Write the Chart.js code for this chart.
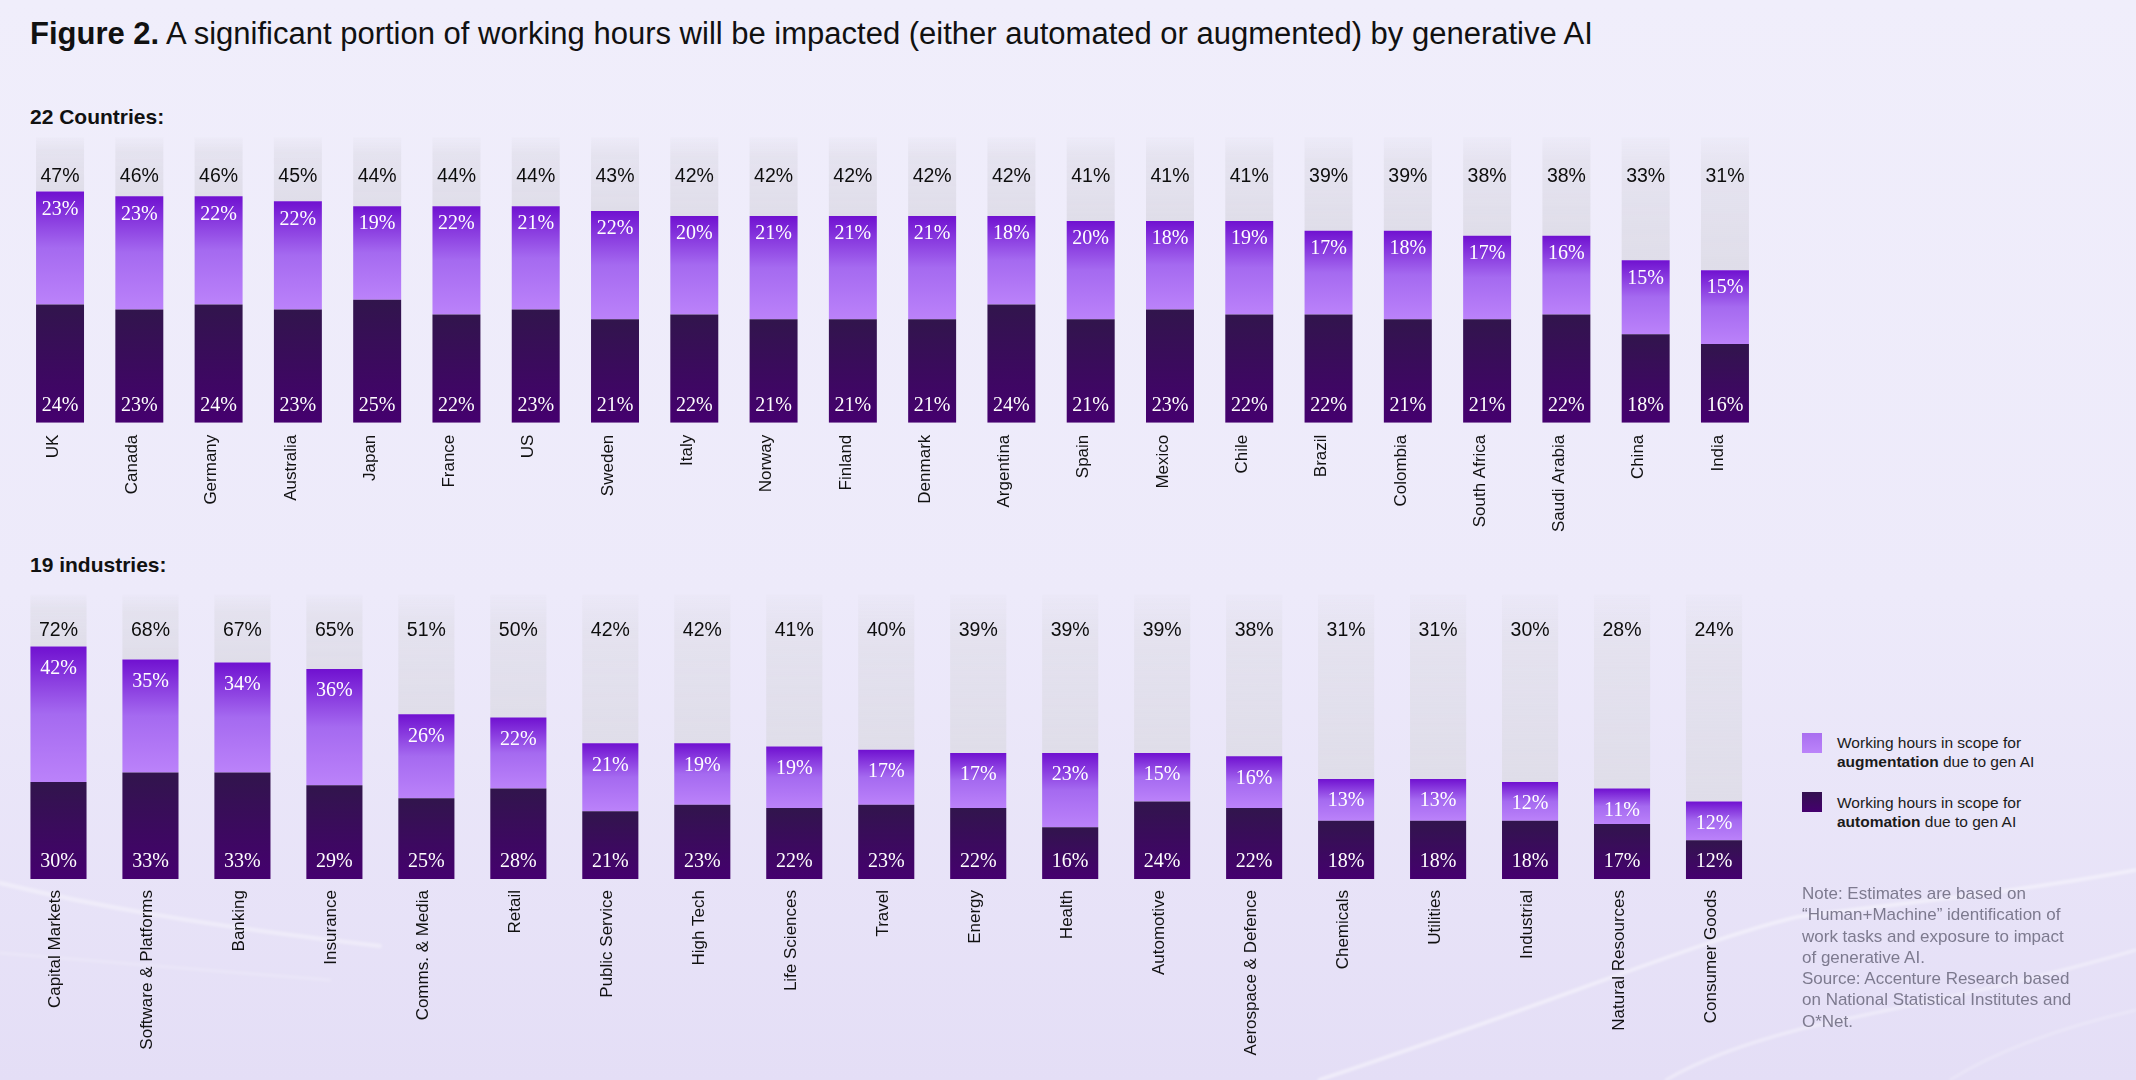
<!DOCTYPE html>
<html>
<head>
<meta charset="utf-8">
<script src="https://cdn.jsdelivr.net/npm/chart.js@4.4.1/dist/chart.umd.min.js"></script>
<style>
  html,body{margin:0;padding:0;}
  body{width:2136px;height:1080px;overflow:hidden;position:relative;
    background:linear-gradient(180deg,#f0eefb 0%,#edeafa 55%,#e4def6 100%);
    font-family:"Liberation Sans",Arial,sans-serif;color:#111;}
  .abs{position:absolute;white-space:nowrap;}
  #title{left:30px;top:17px;font-size:31px;line-height:34px;}
  .sec{left:30px;font-size:21px;font-weight:bold;line-height:24px;}
  .sw{position:absolute;width:20px;height:20px;}
  .lg{font-size:15.5px;line-height:19px;color:#1b1b1b;}
  #note{left:1802px;top:883px;font-size:17px;line-height:21.3px;color:#7d7a8f;}
  canvas{position:absolute;left:0;}
  #streaks{position:absolute;left:0;top:0;}
</style>
</head>
<body>
<!-- riscos decorativos do fundo -->
<svg id="streaks" width="2136" height="1080">
  <defs><filter id="soft"><feGaussianBlur stdDeviation="1.6"/></filter></defs>
  <g fill="none" stroke="#ffffff" stroke-linecap="round" filter="url(#soft)">
    <path d="M0,883 C90,905 200,925 380,946" stroke-width="4" opacity="0.4"/>
    <path d="M0,953 C120,962 220,972 330,980" stroke-width="3" opacity="0.2"/>
    <path d="M2136,870 C2000,895 1880,905 1797,917 C1700,940 1560,1000 1319,1080" stroke-width="3" opacity="0.55"/>
    <path d="M2136,950 C2000,990 1880,1010 1797,1030 C1740,1045 1700,1060 1666,1080" stroke-width="2.5" opacity="0.5"/>
    <path d="M2136,1010 C2050,1030 1990,1055 1950,1080" stroke-width="2" opacity="0.35"/>
  </g>
</svg>

<div id="title" class="abs"><b>Figure 2.</b> A significant portion of working hours will be impacted (either automated or augmented) by generative AI</div>
<div class="abs sec" style="top:105px">22 Countries:</div>
<div class="abs sec" style="top:553px">19 industries:</div>

<canvas id="chartCountries" width="1780" height="440" style="top:120px"></canvas>
<canvas id="chartIndustries" width="1780" height="500" style="top:580px"></canvas>

<!-- legenda -->
<div class="sw" style="left:1802px;top:733px;background:linear-gradient(180deg,#a96ef0,#bb84fa)"></div>
<div class="abs lg" style="left:1837px;top:733px">Working hours in scope for<br><b>augmentation</b> due to gen AI</div>
<div class="sw" style="left:1802px;top:792px;background:linear-gradient(180deg,#33104f,#45006f)"></div>
<div class="abs lg" style="left:1837px;top:793px">Working hours in scope for<br><b>automation</b> due to gen AI</div>

<div id="note" class="abs">Note: Estimates are based on<br>“Human+Machine” identification of<br>work tasks and exposure to impact<br>of generative AI.<br>Source: Accenture Research based<br>on National Statistical Institutes and<br>O*Net.</div>

<script>
// 22 países
const countries = ["UK","Canada","Germany","Australia","Japan","France","US","Sweden","Italy","Norway","Finland","Denmark","Argentina","Spain","Mexico","Chile","Brazil","Colombia","South Africa","Saudi Arabia","China","India"];
const countryTotal = [47,46,46,45,44,44,44,43,42,42,42,42,42,41,41,41,39,39,38,38,33,31];
const countryAug   = [23,23,22,22,19,22,21,22,20,21,21,21,18,20,18,19,17,18,17,16,15,15];
const countryAuto  = [24,23,24,23,25,22,23,21,22,21,21,21,24,21,23,22,22,21,21,22,18,16];

// 19 indústrias
const industries = ["Capital Markets","Software & Platforms","Banking","Insurance","Comms. & Media","Retail","Public Service","High Tech","Life Sciences","Travel","Energy","Health","Automotive","Aerospace & Defence","Chemicals","Utilities","Industrial","Natural Resources","Consumer Goods"];
const industryTotal = [72,68,67,65,51,50,42,42,41,40,39,39,39,38,31,31,30,28,24];
const industryAug   = [42,35,34,36,26,22,21,19,19,17,17,23,15,16,13,13,12,11,12];
const industryAuto  = [30,33,33,29,25,28,21,23,22,23,22,16,24,22,18,18,18,17,12];

const SANS = '"Liberation Sans", Arial, sans-serif';
const SERIF = '"Liberation Serif", "DejaVu Serif", serif';

// gradiente por segmento (calculado a partir da escala y)
function segFill(stops, solid){
  return (c)=>{
    const chart = c.chart, y = chart.scales.y;
    if(c.type !== "data" || !y) return solid;
    const ds = chart.data.datasets;
    let base = 0;
    for(let k=0;k<c.datasetIndex;k++) base += ds[k].data[c.dataIndex];
    const v = ds[c.datasetIndex].data[c.dataIndex];
    const top = y.getPixelForValue(base+v), bot = y.getPixelForValue(base);
    if(!isFinite(top) || !isFinite(bot) || top === bot) return solid; // ainda sem layout
    const g = chart.ctx.createLinearGradient(0, top, 0, bot);
    stops.forEach(([p,col])=> g.addColorStop(p,col));
    return g;
  };
}
const autoFill = segFill([[0,"#31154c"],[1,"#45006f"]], "#3b0a5e");
const augFill  = segFill([[0,"#7011d0"],[0.5,"#a56af0"],[1,"#bb82fa"]], "#a86cf0");

// coluna cinza + rótulos
function labelsPlugin(totals, aug, auto, o){
  return {
    id:"labels",
    beforeDatasetsDraw(chart){
      const { ctx, chartArea:a } = chart;
      const bars = chart.getDatasetMeta(1).data;
      ctx.save();
      bars.forEach(b=>{
        const g = ctx.createLinearGradient(0, a.top, 0, b.y);
        g.addColorStop(0, "rgba(226,224,236,0.15)");
        g.addColorStop(0.25, "rgba(226,224,236,0.8)");
        g.addColorStop(1, "rgba(223,221,233,1)");
        ctx.fillStyle = g;
        ctx.fillRect(b.x - b.width/2, a.top, b.width, b.y - a.top);
      });
      ctx.restore();
    },
    afterDatasetsDraw(chart){
      const { ctx, chartArea:a } = chart;
      const mAuto = chart.getDatasetMeta(0).data, mAug = chart.getDatasetMeta(1).data;
      ctx.save();
      ctx.textAlign = "center"; ctx.textBaseline = "middle";
      ctx.fillStyle = "#0d0d0d"; ctx.font = "19.5px " + SANS;
      mAug.forEach((b,i)=> ctx.fillText(totals[i] + "%", b.x, a.top + o.totalOff));
      ctx.fillStyle = "#fff"; ctx.font = "20px " + SERIF;
      mAug.forEach((b,i)=> ctx.fillText(aug[i] + "%", b.x, b.y + o.augOff));
      mAuto.forEach((b,i)=> ctx.fillText(auto[i] + "%", b.x, b.base - o.autoOff));
      ctx.restore();
    }
  };
}

function makeChart(id, labels, totals, aug, auto, o){
  return new Chart(document.getElementById(id), {
    type:"bar",
    data:{
      labels,
      datasets:[
        { label:"Automation", data:auto, backgroundColor:autoFill, borderWidth:0 },
        { label:"Augmentation", data:aug, backgroundColor:augFill, borderWidth:0 }
      ]
    },
    options:{
      responsive:false, devicePixelRatio:1, animation:false,
      layout:{ padding:{ top:o.padTop, left:o.padLeft, right:o.padRight, bottom:0 } },
      datasets:{ bar:{ barPercentage:o.barPct, categoryPercentage:1 } },
      plugins:{ legend:{ display:false }, tooltip:{ enabled:false } },
      scales:{
        x:{ stacked:true, grid:{ display:false, drawTicks:false }, border:{ display:false },
            ticks:{ autoSkip:false, minRotation:90, maxRotation:90, padding:o.tickPad, labelOffset:o.labelOff,
                    color:"#111", font:{ family:SANS, size:17 } },
            afterFit:(s)=>{ s.height = o.axisH; } },
        y:{ stacked:true, display:false, min:0, max:o.max }
      }
    },
    plugins:[labelsPlugin(totals, aug, auto, o)]
  });
}

makeChart("chartCountries", countries, countryTotal, countryAug, countryAuto,
  { padTop:17.3, padLeft:20.4, padRight:15.4, axisH:137.3, max:58, barPct:0.605,
    tickPad:12, labelOff:-7, totalOff:39, augOff:18, autoOff:17 });

makeChart("chartIndustries", industries, industryTotal, industryAug, industryAuto,
  { padTop:14.8, padLeft:12.5, padRight:20, axisH:201, max:88, barPct:0.61,
    tickPad:11, labelOff:-3, totalOff:36, augOff:22, autoOff:17 });
</script>
</body>
</html>
